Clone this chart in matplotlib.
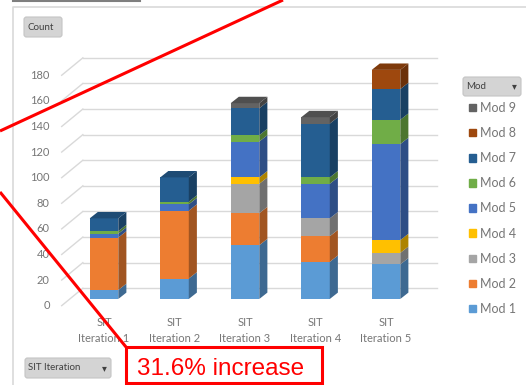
import matplotlib
matplotlib.use('Agg')
import matplotlib.pyplot as plt
import matplotlib.patches as mpatches
import numpy as np
from matplotlib.colors import to_rgb

plt.rcParams['font.family'] = ['Lato', 'DejaVu Sans']

# data
iterations = ['SIT\nIteration 1', 'SIT\nIteration 2', 'SIT\nIteration 3', 'SIT\nIteration 4', 'SIT\nIteration 5']
mods = ['Mod 1', 'Mod 2', 'Mod 3', 'Mod 4', 'Mod 5', 'Mod 6', 'Mod 7', 'Mod 8', 'Mod 9']
mod1 = [7, 16, 42, 29, 27]
mod2 = [41, 53, 25, 20, 0]
mod3 = [0, 0, 23, 14, 9]
mod4 = [0, 0, 5, 0, 10]
mod5 = [3, 5, 28, 27, 75]
mod6 = [2, 2, 5, 5, 19]
mod7 = [10, 19, 21, 42, 24]
mod8 = [0, 0, 0, 0, 15]
mod9 = [0, 0, 4, 5, 0]
yticks = [0, 20, 40, 60, 80, 100, 120, 140, 160, 180]

colors = ['#5B9BD5', '#ED7D31', '#A5A5A5', '#FFC000', '#4472C4',
          '#70AD47', '#255E91', '#9E480E', '#636363']
series = [mod1, mod2, mod3, mod4, mod5, mod6, mod7, mod8, mod9]

W, H = 526, 385
fig = plt.figure(figsize=(W / 100, H / 100), dpi=100)
fig.patch.set_facecolor('white')

def fx(x):
    return x / W

def fy(y):
    return 1 - y / H

# main axes, front plane of the bars
px_unit = 1.28
ax = fig.add_axes([fx(61.7), fy(299), (428.3 - 61.7) / W, 180 * px_unit / H])
ax.set_xlim(-0.6, 4.6)
ax.set_ylim(0, 180)
ax.axis('off')

DX, DY = 0.115, 5.0      # bar depth
BACK = 8.4               # back wall offset
FRONT = -5.2             # label plane offset
grid_c = '#d9d9d9'
text_c = '#767676'

def shade(c, f):
    r, g, b = to_rgb(c)
    return (r * f, g * f, b * f)

# back wall gridlines and the slanted floor-side lines
for v in yticks:
    ax.plot([-0.3, 4.72], [v + BACK, v + BACK], color=grid_c, lw=1, clip_on=False, zorder=1)
    ax.plot([-0.6, -0.3], [v + FRONT, v + BACK], color=grid_c, lw=1, clip_on=False, zorder=1)
    ax.text(-0.6 - 12 / 70.5, v + FRONT, str(v), ha='right', va='center',
            fontsize=8, color=text_c)

bw = 0.405
x = np.arange(len(iterations))
for i in x:
    bottom = 0
    x0, x1 = i - bw / 2, i + bw / 2
    last = None
    for s, c in zip(series, colors):
        v = s[i]
        if v == 0:
            continue
        ax.bar(i, v, bw, bottom=bottom, color=c, lw=0, zorder=3, clip_on=False)
        side = [(x1, bottom), (x1 + DX, bottom + DY), (x1 + DX, bottom + v + DY), (x1, bottom + v)]
        ax.add_patch(mpatches.Polygon(side, closed=True, fc=shade(c, 0.68), lw=0, zorder=3, clip_on=False))
        bottom += v
        last = c
    top = [(x0, bottom), (x0 + DX, bottom + DY), (x1 + DX, bottom + DY), (x1, bottom)]
    ax.add_patch(mpatches.Polygon(top, closed=True, fc=shade(last, 0.8), lw=0, zorder=3, clip_on=False))
    ax.text(i, -14, iterations[i], ha='center', va='top', fontsize=8,
            color=text_c, linespacing=1.6)

handles = [mpatches.Patch(color=c) for c in colors][::-1]
leg = ax.legend(handles, mods[::-1], loc='upper left', bbox_to_anchor=(fx(469), fy(102)),
                bbox_transform=fig.transFigure, frameon=False, fontsize=9,
                handlelength=0.55, handleheight=0.55, handletextpad=0.35,
                labelspacing=1.05, borderpad=0, borderaxespad=0)
for t in leg.get_texts():
    t.set_color(text_c)

# overlay in pixel space for frame, buttons and the red annotation
ov = fig.add_axes([0, 0, 1, 1])
ov.set_xlim(0, W)
ov.set_ylim(H, 0)
ov.axis('off')

ov.plot([13, 13, W], [H, 7, 7], color='#d9d9d9', lw=1.2)
ov.plot([13, 140], [0.8, 0.8], color='#7f7f7f', lw=1.5)

def button(x0, y0, x1, y1, label, arrow=False):
    ov.add_patch(mpatches.FancyBboxPatch((x0, y0), x1 - x0, y1 - y0,
                 boxstyle='round,pad=0,rounding_size=2.5', fc='#d4d4d4', ec='#c4c4c4', lw=0.8))
    ov.text(x0 + 3, (y0 + y1) / 2, label, ha='left', va='center', fontsize=7, color='#404040')
    if arrow:
        ov.text(x1 - 7, (y0 + y1) / 2, '▾', ha='center', va='center', fontsize=7,
                color='#404040', family='DejaVu Sans')

button(24, 17, 62, 37, 'Count')
button(463, 77, 521, 96, 'Mod', arrow=True)
button(25, 358, 111, 378, 'SIT Iteration', arrow=True)

red = '#ff0000'
ov.plot([283, 0], [0, 131], color=red, lw=2.2, solid_capstyle='butt')
ov.plot([0, 126], [192, 347], color=red, lw=2.2, solid_capstyle='butt')
ov.add_patch(mpatches.Rectangle((126, 347), 196, 36, fill=False, ec=red, lw=2.2))
ov.text(137, 375, '31.6% increase', ha='left', va='baseline', fontsize=17.5,
        color=red, family='Liberation Sans')

fig.savefig('out.png', dpi=100)
